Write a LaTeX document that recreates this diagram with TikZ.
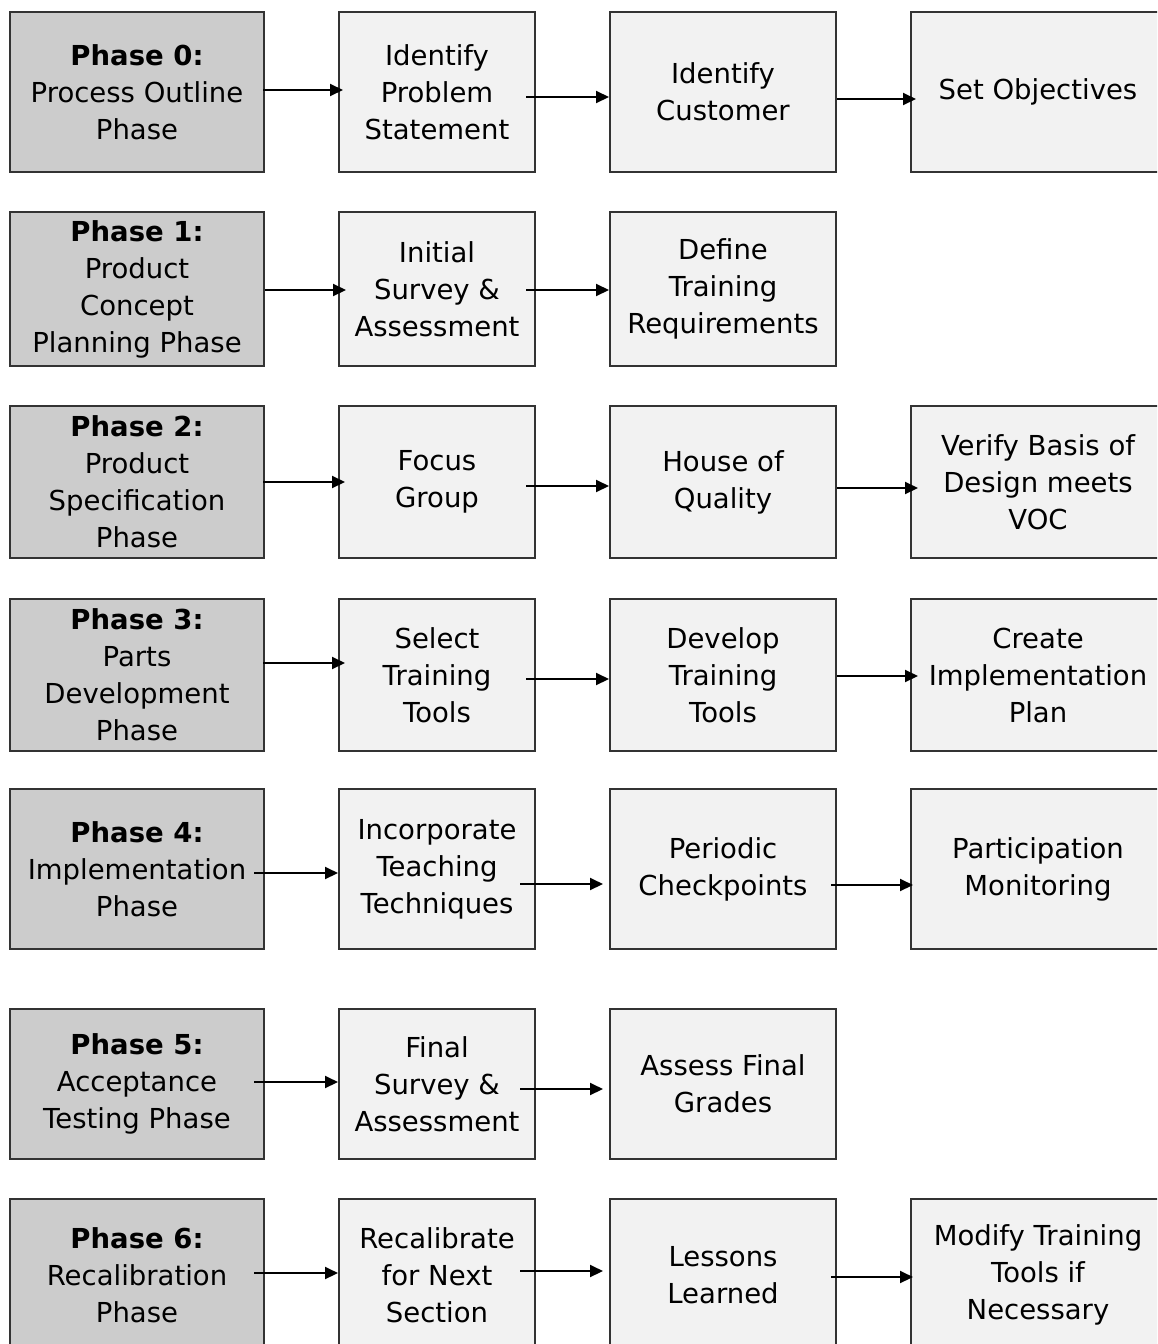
\documentclass[tikz,border=0pt]{standalone}
\usepackage{fontspec}
\setmainfont{DejaVu Sans}
\usetikzlibrary{arrows.meta,calc}
\definecolor{phasefill}{HTML}{CCCCCC}
\definecolor{stepfill}{HTML}{F2F2F2}
\definecolor{edge}{HTML}{333333}
\tikzset{
  box/.style={draw=edge, line width=2pt, inner sep=0pt, align=center,
    font=\fontsize{27.5}{37}\selectfont, text=black},
  phasebox/.style={box, fill=phasefill, minimum width=254pt},
  colb/.style={box, fill=stepfill, minimum width=196pt},
  colc/.style={box, fill=stepfill, minimum width=226pt},
  cold/.style={box, fill=stepfill, minimum width=254pt},
  arr/.style={draw=black, line width=2pt, -{Triangle[length=13pt,width=12pt]}}
}
\newcommand\conn[5]{\draw[arr] ($(#1.east |- 0,#3)+(#4,0)$) -- ($(#2.west |- 0,#3)+(#5,0)$);}
\begin{document}
\begin{tikzpicture}[x=1pt,y=-1pt]
\clip (0,0) rectangle (1157,1344);
\fill[white] (0,0) rectangle (1157,1344);
% Row 0
\node[phasebox, minimum height=160pt] (p0) at (137,92) {\textbf{Phase 0:}\\Process Outline\\Phase};
\node[colb, minimum height=160pt] (b0) at (437,92) {Identify\\Problem\\Statement};
\node[colc, minimum height=160pt] (c0) at (723,92) {Identify\\Customer};
\node[cold, minimum height=160pt] (d0) at (1038,92) {Set Objectives};
% Row 1
\node[phasebox, minimum height=154pt] (p1) at (137,289) {\textbf{Phase 1:}\\Product\\Concept\\Planning Phase};
\node[colb, minimum height=154pt] (b1) at (437,289) {Initial\\Survey \&\\Assessment};
\node[colc, minimum height=154pt] (c1) at (723,289) {Define\\Training\\Requirements};
% Row 2
\node[phasebox, minimum height=152pt] (p2) at (137,482) {\textbf{Phase 2:}\\Product\\Specification\\Phase};
\node[colb, minimum height=152pt] (b2) at (437,482) {Focus\\Group};
\node[colc, minimum height=152pt] (c2) at (723,482) {House of\\Quality};
\node[cold, minimum height=152pt] (d2) at (1038,482) {Verify Basis of\\Design meets\\VOC};
% Row 3
\node[phasebox, minimum height=152pt] (p3) at (137,675) {\textbf{Phase 3:}\\Parts\\Development\\Phase};
\node[colb, minimum height=152pt] (b3) at (437,675) {Select\\Training\\Tools};
\node[colc, minimum height=152pt] (c3) at (723,675) {Develop\\Training\\Tools};
\node[cold, minimum height=152pt] (d3) at (1038,675) {Create\\Implementation\\Plan};
% Row 4
\node[phasebox, minimum height=160pt] (p4) at (137,869) {\textbf{Phase 4:}\\Implementation\\Phase};
\node[colb, minimum height=160pt] (b4) at (437,869) {Incorporate\\Teaching\\Techniques};
\node[colc, minimum height=160pt] (c4) at (723,869) {Periodic\\Checkpoints};
\node[cold, minimum height=160pt] (d4) at (1038,869) {Participation\\Monitoring};
% Row 5
\node[phasebox, minimum height=150pt] (p5) at (137,1084) {\textbf{Phase 5:}\\Acceptance\\Testing Phase};
\node[colb, minimum height=150pt] (b5) at (437,1084) {Final\\Survey \&\\Assessment};
\node[colc, minimum height=150pt] (c5) at (723,1084) {Assess Final\\Grades};
% Row 6
\node[phasebox, minimum height=152pt] (p6) at (137,1275) {\textbf{Phase 6:}\\Recalibration\\Phase};
\node[colb, minimum height=152pt] (b6) at (437,1275) {Recalibrate\\for Next\\Section};
\node[colc, minimum height=152pt] (c6) at (723,1275) {Lessons\\Learned};
\node[cold, minimum height=152pt] (d6) at (1038,1275) {Modify Training\\Tools if\\Necessary};
% Connectors
\conn{p0}{b0}{90}{-2}{5}
\conn{b0}{c0}{97}{-10}{0}
\conn{c0}{d0}{99}{0}{6}
\conn{p1}{b1}{290}{0}{8}
\conn{b1}{c1}{290}{-10}{0}
\conn{p2}{b2}{482}{-2}{7}
\conn{b2}{c2}{486}{-10}{0}
\conn{c2}{d2}{488}{0}{8}
\conn{p3}{b3}{663}{-2}{7}
\conn{b3}{c3}{679}{-10}{0}
\conn{c3}{d3}{676}{0}{8}
\conn{p4}{b4}{873}{-11}{0}
\conn{b4}{c4}{884}{-16}{-6}
\conn{c4}{d4}{885}{-6}{3}
\conn{p5}{b5}{1082}{-11}{0}
\conn{b5}{c5}{1089}{-16}{-6}
\conn{p6}{b6}{1273}{-11}{0}
\conn{b6}{c6}{1271}{-16}{-6}
\conn{c6}{d6}{1277}{-6}{3}
\end{tikzpicture}
\end{document}
